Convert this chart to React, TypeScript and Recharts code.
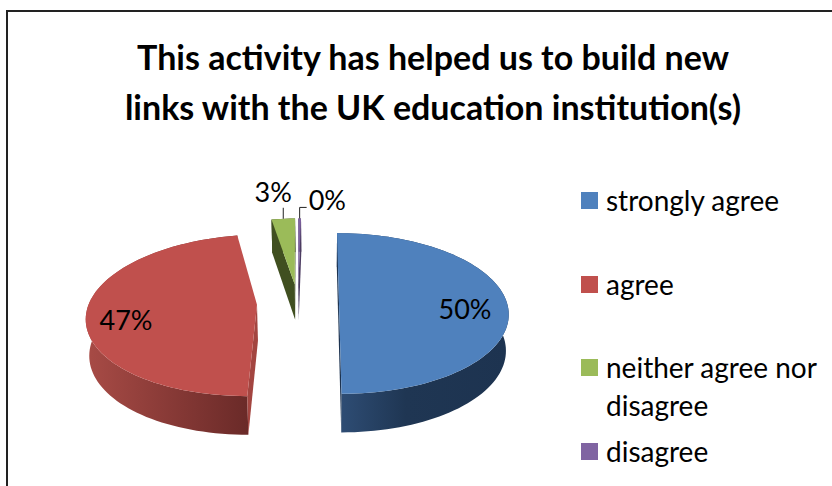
import { Legend, Pie, PieChart } from "recharts"

const categories = ["strongly agree", "agree", "neither agree nor disagree", "disagree"]
const values = [50, 47.1, 2.6, 0.3]

const topColors = ["#4f81bd", "#c0504d", "#9bbb59", "#8064a2"]
const cutColors = ["#1d3350", "#a34540", "#404f20", "#4c3c61"]
const wallFills = ["url(#wallBlue)", "url(#wallRed)", "#404f20", "#4c3c61"]

const data = categories.map((name, i) => ({ name, value: values[i], fill: topColors[i] }))

const FONT = "Lato, Carlito, sans-serif"
const RADIUS = 168
const TILT = 79 // vertical half axis of the disc
const DEPTH = 36
const PERSPECTIVE = 0.13
const VANISH_X = 322
const EXPLODE = 0.244
const toRad = Math.PI / 180

// recharts angles run counter clockwise from east, the disc is laid out clockwise from north
const project = (s: any, theta: number, r: number, lower = false) => {
  const mid = (90 - s.midAngle) * toRad
  const t = theta * toRad
  const X = r * Math.sin(t) + EXPLODE * Math.sin(mid)
  const Z = -r * Math.cos(t) - EXPLODE * Math.cos(mid)
  const k = 1 / (1 - PERSPECTIVE * Z)
  return {
    x: VANISH_X + (s.cx + RADIUS * X - VANISH_X) * k * (lower ? 0.985 : 1),
    y: s.cy + TILT * Z * k + (lower ? DEPTH * Math.sqrt(k) : 0),
  }
}

const toPath = (pts: { x: number; y: number }[]) =>
  "M" + pts.map((p) => `${p.x.toFixed(2)},${p.y.toFixed(2)}`).join("L") + "Z"

function Slice3D(props: any) {
  const i = categories.indexOf(props.name)
  const from = 90 - props.startAngle
  const to = 90 - props.endAngle
  const arc: number[] = []
  const steps = Math.max(2, Math.ceil((to - from) / 2))
  for (let n = 0; n <= steps; n++) arc.push(from + ((to - from) * n) / steps)

  const rimTop = arc.map((a) => project(props, a, 1))
  const rimLow = arc.map((a) => project(props, a, 1, true))
  const apexTop = project(props, 0, 0)
  const apexLow = project(props, 0, 0, true)

  const startFace = rimTop[0].x < apexTop.x
  const endFace = rimTop[steps].x > apexTop.x

  return (
    <g>
      <path d={toPath([...rimTop, ...[...rimLow].reverse()])} fill={wallFills[i]} />
      {startFace && <path d={toPath([apexTop, rimTop[0], rimLow[0], apexLow])} fill={cutColors[i]} />}
      {endFace && <path d={toPath([apexTop, rimTop[steps], rimLow[steps], apexLow])} fill={cutColors[i]} />}
      <path d={toPath([apexTop, ...rimTop])} fill={topColors[i]} />
    </g>
  )
}

function SliceLabel(props: any) {
  const text = `${Math.round(props.percent * 100)}%`
  const theta = 90 - props.midAngle
  const common = { fontFamily: FONT, fontSize: 27, fill: "#000", dominantBaseline: "central" as const }

  if (props.index === 0 || props.index === 1) {
    const p = project(props, theta, props.index === 0 ? 0.75 : 0.77)
    return (
      <text x={p.x} y={p.y + (props.index === 0 ? 5 : 9)} textAnchor="middle" {...common}>
        {text}
      </text>
    )
  }
  const rim = project(props, theta, 1)
  if (props.index === 2) {
    return (
      <g>
        <path d={`M${rim.x},${rim.y}V${rim.y - 11}`} stroke="#222" fill="none" />
        <text x={rim.x - 10} y={rim.y - 27} textAnchor="middle" {...common}>
          {text}
        </text>
      </g>
    )
  }
  return (
    <g>
      <path d={`M${rim.x},${rim.y}V${rim.y - 11}H${rim.x + 7}`} stroke="#222" fill="none" />
      <text x={rim.x + 9} y={rim.y - 19} textAnchor="start" {...common}>
        {text}
      </text>
    </g>
  )
}

function LegendRows() {
  return (
    <div style={{ fontFamily: FONT, fontSize: 28, color: "#000", lineHeight: "38px" }}>
      {categories.map((name, i) => (
        <div key={name} style={{ position: "absolute", left: 0, top: i * 83.6, width: 240 }}>
          <span style={{ position: "absolute", left: 0, top: 0, width: 17, height: 17, background: topColors[i] }} />
          <div style={{ position: "absolute", left: 25, top: -11, width: 226 }}>{name}</div>
        </div>
      ))}
    </div>
  )
}

export default function App() {
  return (
    <div style={{ position: "absolute", left: 0, top: 0, width: 832, height: 486, overflow: "hidden", background: "#fff" }}>
      <div style={{ position: "absolute", left: 6, top: 10, width: 900, height: 600, border: "2px solid #222" }} />
      <PieChart width={832} height={486} margin={{ top: 0, right: 0, bottom: 0, left: 0 }} style={{ position: "absolute", left: 0, top: 0 }}>
        <defs>
          <linearGradient id="wallBlue" x1="0" y1="0" x2="1" y2="0">
            <stop offset="0%" stopColor="#2f4e76" />
            <stop offset="40%" stopColor="#1f3653" />
            <stop offset="100%" stopColor="#1d3350" />
          </linearGradient>
          <linearGradient id="wallRed" x1="0" y1="0" x2="1" y2="0">
            <stop offset="0%" stopColor="#a84b46" />
            <stop offset="100%" stopColor="#6a2a28" />
          </linearGradient>
        </defs>
        <text textAnchor="middle" fontFamily={FONT} fontWeight={700} fontSize={34} fill="#000">
          <tspan x={433} y={70}>This activity has helped us to build new</tspan>
          <tspan x={433} y={120}>links with the UK education institution(s)</tspan>
        </text>
        <Pie
          data={data}
          dataKey="value"
          nameKey="name"
          cx={298}
          cy={303}
          outerRadius={RADIUS}
          startAngle={90}
          endAngle={-270}
          stroke="none"
          isAnimationActive={false}
          shape={Slice3D}
          label={SliceLabel}
          labelLine={false}
        />
        <Legend
          layout="vertical"
          align="right"
          verticalAlign="top"
          content={LegendRows}
          wrapperStyle={{ position: "absolute", left: 581, top: 192, width: 251, height: 290 }}
        />
      </PieChart>
    </div>
  )
}
